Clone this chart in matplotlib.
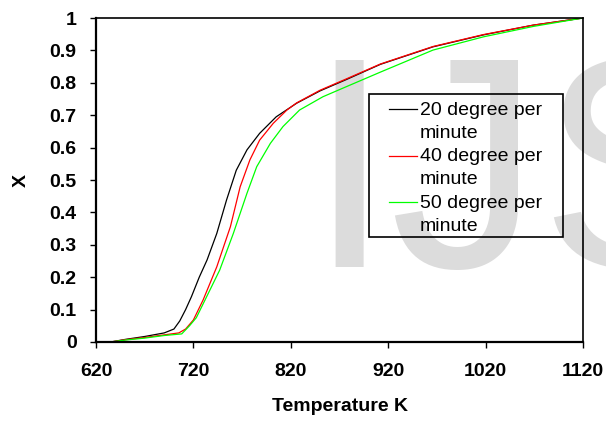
import numpy as np
import matplotlib
matplotlib.use('Agg')
import matplotlib.pyplot as plt
from matplotlib.patches import Rectangle
from matplotlib.legend_handler import HandlerLine2D

plt.rcParams['font.family'] = ['Liberation Sans', 'DejaVu Sans']

# conversion X vs temperature
temp_20 = [635, 650, 670, 690, 700, 706, 712, 718, 726, 734, 744, 754, 764, 775, 788, 805,
           826, 850, 877, 912, 966, 1018, 1069, 1120]
x_20 = [0.0, 0.008, 0.017, 0.028, 0.04, 0.065, 0.10, 0.14, 0.20, 0.253, 0.335, 0.438, 0.53,
        0.593, 0.644, 0.695, 0.737, 0.775, 0.81, 0.857, 0.911, 0.948, 0.978, 1.0]

temp_40 = [635, 650, 670, 690, 705, 712, 720, 730, 744, 758, 768, 778, 788, 802, 816, 826,
           850, 877, 912, 966, 1018, 1069, 1120]
x_40 = [0.0, 0.007, 0.014, 0.022, 0.028, 0.04, 0.068, 0.13, 0.232, 0.356, 0.479, 0.562, 0.623,
        0.675, 0.716, 0.738, 0.777, 0.812, 0.858, 0.912, 0.949, 0.978, 1.0]

temp_50 = [635, 650, 670, 690, 708, 716, 723, 732, 747, 761, 775, 785, 799, 812, 829, 853,
           877, 912, 966, 1018, 1069, 1120]
x_50 = [0.0, 0.006, 0.012, 0.02, 0.025, 0.05, 0.075, 0.13, 0.222, 0.335, 0.459, 0.541, 0.613,
        0.665, 0.716, 0.757, 0.788, 0.833, 0.901, 0.942, 0.974, 1.0]

labels = ['20 degree per\nminute', '40 degree per\nminute', '50 degree per\nminute']
colors = ['black', '#ff0000', '#00ff00']

x_ticks = [620, 720, 820, 920, 1020, 1120]
y_ticks = [0, 0.1, 0.2, 0.3, 0.4, 0.5, 0.6, 0.7, 0.8, 0.9, 1]

LEG_FS = 14
LEG_LS = 1.45


class FirstLineHandler(HandlerLine2D):
    # put the legend line next to the first text line, not the middle of the block
    def create_artists(self, legend, orig_handle, xdescent, ydescent, width, height, fontsize, trans):
        arts = super().create_artists(legend, orig_handle, xdescent, ydescent, width, height, fontsize, trans)
        shift = 0.5 * (LEG_LS * 0.716 + 0.21) * fontsize
        for a in arts:
            xd, yd = a.get_data()
            a.set_data(np.asarray(xd), np.asarray(yd) + shift)
        return arts


fig = plt.figure(figsize=(6.06, 4.23), dpi=100)
ax = fig.add_axes([96 / 606, 1 - 342 / 423, 487 / 606, 324 / 423])
ax.set_facecolor('none')

# watermark behind everything
fig.text(307 / 606, 1 - 267 / 423, 'IJS', fontsize=216, color='#dcdcdc',
         ha='left', va='baseline', zorder=-1)

lines = []
for t, x, c, lab in zip([temp_20, temp_40, temp_50], [x_20, x_40, x_50], colors, labels):
    ln, = ax.plot(t, x, color=c, lw=0.9, label=lab)
    lines.append(ln)

ax.set_xlim(620, 1120)
ax.set_ylim(0, 1)
ax.set_xticks(x_ticks)
ax.set_yticks(y_ticks)
ax.set_xticklabels([str(v) for v in x_ticks])
ax.set_yticklabels(['%g' % v for v in y_ticks])
ax.tick_params(direction='out', length=4, width=1, labelsize=14, colors='black')
ax.tick_params(axis='x', pad=11)
ax.tick_params(axis='y', pad=10)
for lab in ax.get_xticklabels() + ax.get_yticklabels():
    lab.set_fontweight('bold')

for side in ['left', 'bottom']:
    ax.spines[side].set_linewidth(1.6)
for side in ['top', 'right']:
    ax.spines[side].set_linewidth(1.2)

ax.set_xlabel('Temperature K', fontsize=14, fontweight='bold')
ax.set_ylabel('X', fontsize=14, fontweight='bold', rotation=90)
ax.xaxis.set_label_coords(0.5, -0.172)
ax.yaxis.set_label_coords(-0.135, 0.5)

leg = ax.legend(handles=lines, loc='upper left', bbox_to_anchor=((389 - 96) / 487, (342 - 102) / 324),
                frameon=False, fontsize=LEG_FS, borderpad=0, borderaxespad=0,
                handlelength=1.45, handletextpad=0.12, labelspacing=0.34,
                handler_map={matplotlib.lines.Line2D: FirstLineHandler()})
for txt in leg.get_texts():
    txt.set_linespacing(LEG_LS)

ax.add_patch(Rectangle(((369 - 96) / 487, (342 - 237) / 324), (563 - 369) / 487, (237 - 94) / 324,
                       transform=ax.transAxes, fill=False, edgecolor='black', lw=1.2, zorder=5))

fig.savefig('out.png', dpi=100, facecolor='white')
